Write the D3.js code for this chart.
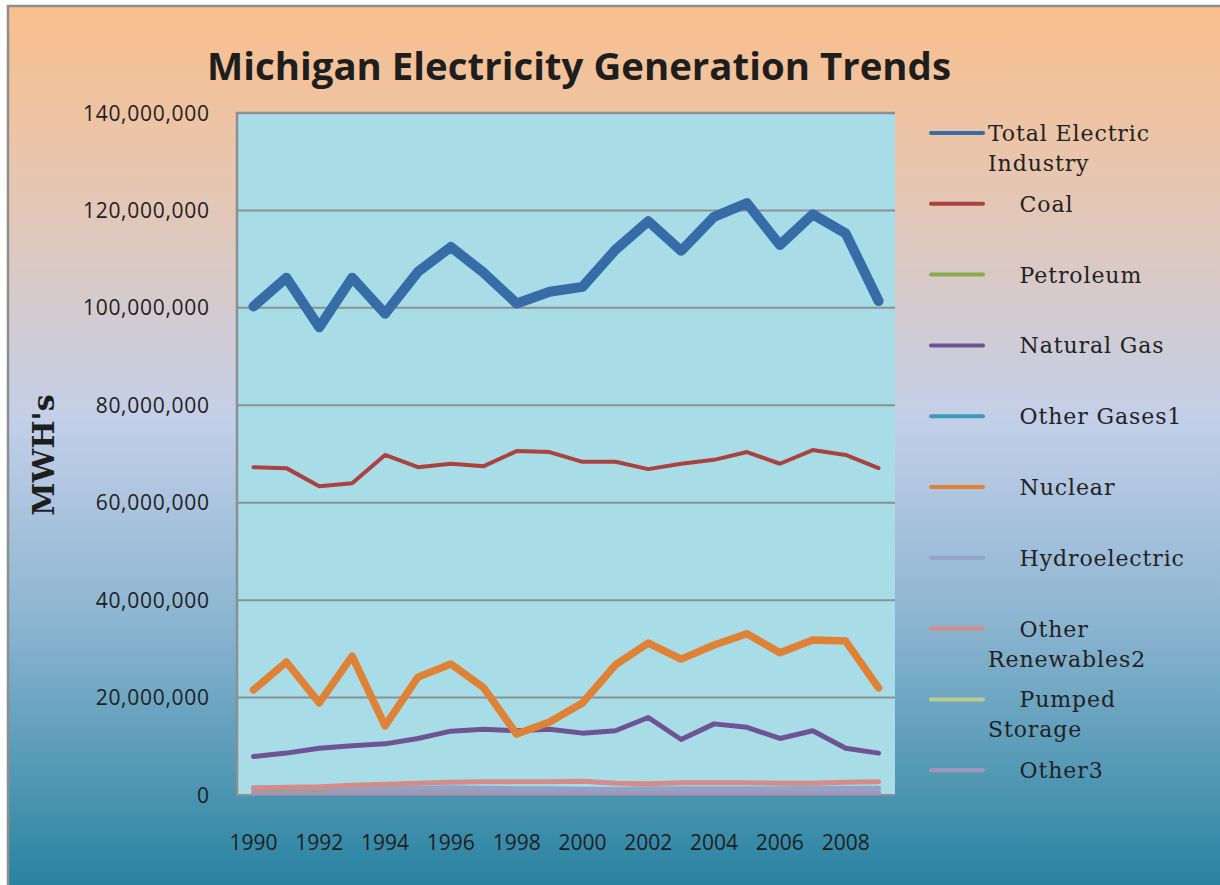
<!DOCTYPE html>
<html>
<head>
<meta charset="utf-8">
<script src="https://cdn.jsdelivr.net/npm/d3@7"></script>
<style>
  body { margin: 0; background: #fff; }
  svg { display: block; }
</style>
</head>
<body>
<script>
var W = 1220, H = 885;

// data (MWh)
var years = [1990, 1991, 1992, 1993, 1994, 1995, 1996, 1997, 1998, 1999,
             2000, 2001, 2002, 2003, 2004, 2005, 2006, 2007, 2008, 2009];
var total = [100.3, 106.2, 96.0, 106.2, 98.8, 107.4, 112.5, 107.2, 100.9, 103.3,
             104.3, 111.9, 117.8, 111.7, 118.7, 121.5, 112.9, 119.2, 115.3, 101.4];
var coal = [67.3, 67.1, 63.4, 64.0, 69.8, 67.3, 68.0, 67.5, 70.6, 70.4,
            68.4, 68.4, 66.9, 68.0, 68.8, 70.4, 68.0, 70.8, 69.8, 67.1];
var petroleum = [1.0, 1.0, 0.9, 1.0, 0.9, 0.8, 0.9, 0.8, 0.9, 0.7,
                 0.6, 0.6, 0.5, 0.6, 0.5, 0.4, 0.3, 0.3, 0.3, 0.3];
var naturalGas = [7.9, 8.6, 9.6, 10.1, 10.5, 11.6, 13.1, 13.5, 13.2, 13.5,
                  12.7, 13.2, 15.9, 11.4, 14.6, 13.9, 11.6, 13.2, 9.6, 8.6];
var otherGases = [0.3, 0.3, 0.3, 0.3, 0.3, 0.3, 0.3, 0.3, 0.3, 0.3,
                  0.3, 0.3, 0.3, 0.3, 0.3, 0.3, 0.3, 0.3, 0.3, 0.3];
var nuclear = [21.6, 27.3, 18.9, 28.5, 14.2, 24.2, 26.9, 22.0, 12.5, 15.0,
               18.9, 26.7, 31.2, 27.9, 30.8, 33.1, 29.2, 31.8, 31.6, 22.0];
var hydro = [1.5, 1.5, 1.5, 1.4, 1.4, 1.4, 1.5, 1.4, 1.3, 1.3,
             1.2, 1.2, 1.3, 1.3, 1.3, 1.3, 1.3, 1.4, 1.4, 1.4];
var otherRenewables = [1.4, 1.6, 1.7, 2.0, 2.2, 2.4, 2.6, 2.7, 2.7, 2.7,
                       2.8, 2.4, 2.3, 2.5, 2.5, 2.5, 2.4, 2.4, 2.6, 2.7];
var pumpedStorage = [0.1, 0.1, 0.1, 0.1, 0.1, 0.1, 0.1, 0.1, 0.1, 0.1,
                     0.1, 0.1, 0.1, 0.1, 0.1, 0.1, 0.1, 0.1, 0.1, 0.1];
var other3 = [0.3, 0.3, 0.3, 0.3, 0.3, 0.3, 0.3, 0.3, 0.3, 0.3,
              0.3, 0.3, 0.3, 0.3, 0.4, 0.4, 0.4, 0.4, 0.4, 0.4];

var yTicks = [0, 20e6, 40e6, 60e6, 80e6, 100e6, 120e6, 140e6];
var xTicks = [1990, 1992, 1994, 1996, 1998, 2000, 2002, 2004, 2006, 2008];

var series = [
  { name: ["Total Electric", "Industry"], values: total, color: "#376CA7", width: 10 },
  { name: ["    Coal"], values: coal, color: "#AA4240", width: 4 },
  { name: ["    Petroleum"], values: petroleum, color: "#8BAB4A", width: 4 },
  { name: ["    Natural Gas"], values: naturalGas, color: "#6F5494", width: 5 },
  { name: ["    Other Gases1"], values: otherGases, color: "#3D9BB6", width: 4 },
  { name: ["    Nuclear"], values: nuclear, color: "#E08236", width: 7.5 },
  { name: ["    Hydroelectric"], values: hydro, color: "#8FA4CA", width: 5 },
  { name: ["    Other", "Renewables2"], values: otherRenewables, color: "#D58B88", width: 5 },
  { name: ["    Pumped", "Storage"], values: pumpedStorage, color: "#B7CD8F", width: 4 },
  { name: ["    Other3"], values: other3, color: "#A595BD", width: 5 }
];

var svg = d3.select("body").append("svg")
    .attr("width", W)
    .attr("height", H);

var defs = svg.append("defs");
var grad = defs.append("linearGradient")
    .attr("id", "bg")
    .attr("x1", 0).attr("y1", 0).attr("x2", 0).attr("y2", 1);
grad.append("stop").attr("offset", "0%").attr("stop-color", "#F9BF8C");
grad.append("stop").attr("offset", "20%").attr("stop-color", "#E7C6B1");
grad.append("stop").attr("offset", "47%").attr("stop-color", "#C3CFE8");
grad.append("stop").attr("offset", "70%").attr("stop-color", "#8CB5D1");
grad.append("stop").attr("offset", "100%").attr("stop-color", "#2883A0");

svg.append("rect")
    .attr("x", 8).attr("y", 6)
    .attr("width", W - 8).attr("height", H - 6)
    .attr("fill", "url(#bg)");
svg.append("path")
    .attr("d", "M8," + H + "V6H" + W)
    .attr("fill", "none")
    .attr("stroke", "#8E8E8E")
    .attr("stroke-width", 2.5);

svg.append("text")
    .attr("x", 579).attr("y", 80)
    .attr("text-anchor", "middle")
    .style("font-family", "'Open Sans', sans-serif")
    .style("font-weight", "bold")
    .style("font-size", "38px")
    .attr("textLength", 744)
    .attr("lengthAdjust", "spacingAndGlyphs")
    .attr("fill", "#1e1e1e")
    .text("Michigan Electricity Generation Trends");

var plot = { left: 237, right: 895, top: 113, bottom: 795 };

var x = d3.scaleBand()
    .domain(years)
    .range([plot.left, plot.right]);

var y = d3.scaleLinear()
    .domain([0, 140e6])
    .range([plot.bottom, plot.top]);

svg.append("rect")
    .attr("x", plot.left).attr("y", plot.top)
    .attr("width", plot.right - plot.left)
    .attr("height", plot.bottom - plot.top)
    .attr("fill", "#A8DDE8");

// gridlines
svg.append("g")
    .selectAll("line")
    .data(yTicks)
    .enter().append("line")
    .attr("x1", plot.left).attr("x2", plot.right)
    .attr("y1", d => y(d)).attr("y2", d => y(d))
    .attr("stroke", "#8B9093")
    .attr("stroke-width", 2);

svg.append("path")
    .attr("d", "M" + plot.left + "," + (plot.bottom + 1) + "V" + plot.top + "H" + plot.right)
    .attr("fill", "none")
    .attr("stroke", "#8B8F92")
    .attr("stroke-width", 2.5);

// axes
var yAxis = svg.append("g")
    .attr("transform", "translate(" + (plot.left - 25) + ",0)")
    .call(d3.axisLeft(y).tickValues(yTicks).tickSize(0).tickFormat(d3.format(",")));
yAxis.select(".domain").remove();
yAxis.selectAll("text")
    .style("font-family", "'Open Sans', sans-serif")
    .style("font-size", "21px")
    .attr("textLength", function () { return this.getComputedTextLength() * 1.06; })
    .attr("fill", "#1e1e1e")
    .attr("dy", "0.34em");

var xAxis = svg.append("g")
    .attr("transform", "translate(0," + (plot.bottom + 37) + ")")
    .call(d3.axisBottom(x).tickValues(xTicks).tickSize(0));
xAxis.select(".domain").remove();
xAxis.selectAll("text")
    .style("font-family", "'Open Sans', sans-serif")
    .style("font-size", "21px")
    .attr("fill", "#1e1e1e");

svg.append("text")
    .attr("transform", "translate(54,455) rotate(-90)")
    .attr("text-anchor", "middle")
    .style("font-family", "'DejaVu Serif', serif")
    .style("font-weight", "bold")
    .style("font-size", "30px")
    .attr("fill", "#1e1e1e")
    .text("MWH's");

// lines
var line = d3.line()
    .x((d, i) => x(years[i]) + x.bandwidth() / 2)
    .y(d => y(d * 1e6));

svg.append("defs").append("clipPath").attr("id", "clip")
    .append("rect")
    .attr("x", plot.left).attr("y", plot.top - 10)
    .attr("width", plot.right - plot.left)
    .attr("height", plot.bottom - plot.top + 10);

svg.append("g")
    .attr("clip-path", "url(#clip)")
    .selectAll("path")
    .data(series)
    .enter().append("path")
    .attr("d", d => line(d.values))
    .attr("fill", "none")
    .attr("stroke", d => d.color)
    .attr("stroke-width", d => d.width)
    .attr("stroke-linejoin", "round")
    .attr("stroke-linecap", "round");

// legend
var legend = svg.append("g")
    .selectAll("g")
    .data(series)
    .enter().append("g")
    .attr("transform", (d, i) => "translate(0," + (133 + i * 70.8) + ")");

legend.append("line")
    .attr("x1", 931).attr("x2", 983)
    .attr("stroke", d => d.color)
    .attr("stroke-width", 4)
    .attr("stroke-linecap", "round");

legend.append("text")
    .attr("x", 988)
    .attr("y", 8)
    .style("font-family", "'DejaVu Serif', serif")
    .style("font-size", "22px")
    .style("letter-spacing", "0.9px")
    .style("white-space", "pre")
    .attr("fill", "#222")
    .selectAll("tspan")
    .data(d => d.name)
    .enter().append("tspan")
    .attr("x", 988)
    .attr("dy", (d, i) => i === 0 ? 0 : 30)
    .text(d => d);
</script>
</body>
</html>
